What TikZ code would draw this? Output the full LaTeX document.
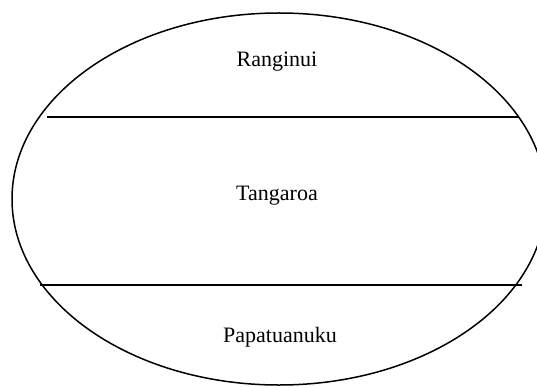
\documentclass[tikz,border=0pt]{standalone}
\usepackage{fontspec}
\setmainfont{Liberation Serif}
\usetikzlibrary{positioning}

\begin{document}
\begin{tikzpicture}[
                        x = 1pt, y = 1pt,
                        font       = \fontsize{22}{26}\selectfont,
                        layer/.style = {anchor=base, inner sep=0pt},
                        rim/.style   = {line width=1.5pt},
                        split/.style = {line width=2pt}
                  ]
                  \useasboundingbox (0,0) rectangle (537,386);
                  \clip (0,0) rectangle (537,386);

                  \draw[rim] (279,187) ellipse [x radius=267, y radius=186];

                  \coordinate (topL) at (47,269);
                  \coordinate (topR) at (519,269);
                  \coordinate (botL) at (40,101);
                  \coordinate (botR) at (522,101);
                  \draw[split] (topL) -- (topR);
                  \draw[split] (botL) -- (botR);

                  \node[layer] (sky)   at (277,319) {Ranginui};
                  \node[layer] (sea)   at (277,186) {Tangaroa};
                  \node[layer] (earth) at (280,44)  {Papatuanuku};
            \end{tikzpicture}
\end{document}
